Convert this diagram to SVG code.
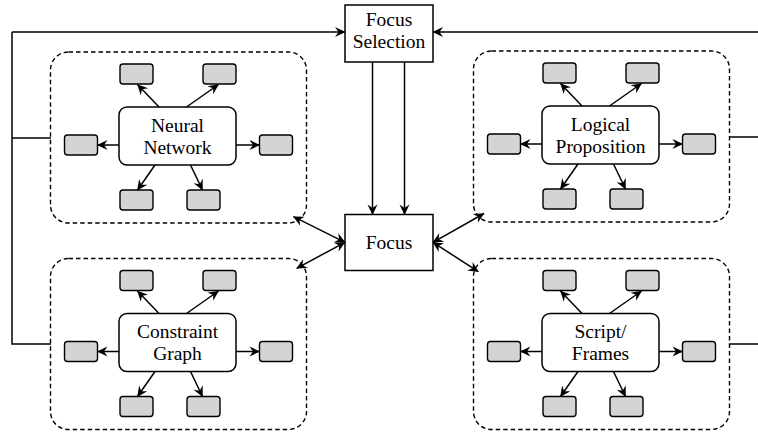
<svg xmlns="http://www.w3.org/2000/svg" width="758" height="432" viewBox="0 0 758 432">
  <defs>
    <style>
      .box { fill: #ffffff; stroke: #000000; stroke-width: 1.5; }
      .core { fill: #ffffff; stroke: #000000; stroke-width: 1.5; }
      .leaf { fill: #d4d4d4; stroke: #000000; stroke-width: 1.4; }
      .group { fill: none; stroke: #000000; stroke-width: 1.4; stroke-dasharray: 4.5 3; }
      .wire { fill: none; stroke: #000000; stroke-width: 1.5; }
      .arrow { fill: none; stroke: #000000; stroke-width: 1.5; marker-end: url(#head); }
      .both { fill: none; stroke: #000000; stroke-width: 1.5; marker-start: url(#head); marker-end: url(#head); }
      text { font-family: "Liberation Serif", "DejaVu Serif", serif; font-size: 19.5px; fill: #000000; text-anchor: middle; }
    </style>
    <marker id="head" viewBox="-11 -6 12 12" refX="0" refY="0" markerWidth="12" markerHeight="12" markerUnits="userSpaceOnUse" orient="auto-start-reverse">
      <path d="M0.5,0 L-10,-5 L-6.5,0 L-10,5 Z" fill="#000000"/>
    </marker>
  </defs>

  <!-- central controller -->
  <g id="focus-selection">
    <rect class="box" x="345" y="5" width="88" height="57"/>
    <text x="389" y="25.5">Focus</text>
    <text x="389" y="48">Selection</text>
  </g>
  <g id="focus">
    <rect class="box" x="345" y="214.5" width="88" height="56"/>
    <text x="389" y="249">Focus</text>
  </g>

  <!-- representation clusters -->
  <g id="neural-network" transform="translate(50.5,52)">
    <rect class="group" x="0" y="0" width="256" height="171" rx="18"/>
    <g id="nn-core"><rect class="core" x="68.5" y="55" width="117" height="58" rx="8"/><text x="127" y="79.5">Neural</text><text x="127" y="101.5">Network</text></g>
    <g id="nn-leaf-1"><rect class="leaf" x="69.5" y="12" width="33" height="20" rx="3"/></g>
    <g id="nn-leaf-2"><rect class="leaf" x="152.5" y="12" width="33" height="20" rx="3"/></g>
    <g id="nn-leaf-3"><rect class="leaf" x="14" y="83" width="33" height="20" rx="3"/></g>
    <g id="nn-leaf-4"><rect class="leaf" x="209" y="83" width="33" height="20" rx="3"/></g>
    <g id="nn-leaf-5"><rect class="leaf" x="69.5" y="138" width="33" height="20" rx="3"/></g>
    <g id="nn-leaf-6"><rect class="leaf" x="136.5" y="138" width="33" height="20" rx="3"/></g>
  </g>

  <g id="logical-proposition" transform="translate(473.5,51)">
    <rect class="group" x="0" y="0" width="256" height="171" rx="18"/>
    <g id="lp-core"><rect class="core" x="68.5" y="55" width="117" height="58" rx="8"/><text x="127" y="79.5">Logical</text><text x="127" y="101.5">Proposition</text></g>
    <g id="lp-leaf-1"><rect class="leaf" x="69.5" y="12" width="33" height="20" rx="3"/></g>
    <g id="lp-leaf-2"><rect class="leaf" x="152.5" y="12" width="33" height="20" rx="3"/></g>
    <g id="lp-leaf-3"><rect class="leaf" x="14" y="83" width="33" height="20" rx="3"/></g>
    <g id="lp-leaf-4"><rect class="leaf" x="209" y="83" width="33" height="20" rx="3"/></g>
    <g id="lp-leaf-5"><rect class="leaf" x="69.5" y="138" width="33" height="20" rx="3"/></g>
    <g id="lp-leaf-6"><rect class="leaf" x="136.5" y="138" width="33" height="20" rx="3"/></g>
  </g>

  <g id="constraint-graph" transform="translate(50.5,258.5)">
    <rect class="group" x="0" y="0" width="256" height="171" rx="18"/>
    <g id="cg-core"><rect class="core" x="68.5" y="55" width="117" height="58" rx="8"/><text x="127" y="79.5">Constraint</text><text x="127" y="101.5">Graph</text></g>
    <g id="cg-leaf-1"><rect class="leaf" x="69.5" y="12" width="33" height="20" rx="3"/></g>
    <g id="cg-leaf-2"><rect class="leaf" x="152.5" y="12" width="33" height="20" rx="3"/></g>
    <g id="cg-leaf-3"><rect class="leaf" x="14" y="83" width="33" height="20" rx="3"/></g>
    <g id="cg-leaf-4"><rect class="leaf" x="209" y="83" width="33" height="20" rx="3"/></g>
    <g id="cg-leaf-5"><rect class="leaf" x="69.5" y="138" width="33" height="20" rx="3"/></g>
    <g id="cg-leaf-6"><rect class="leaf" x="136.5" y="138" width="33" height="20" rx="3"/></g>
  </g>

  <g id="script-frames" transform="translate(473.5,258.5)">
    <rect class="group" x="0" y="0" width="256" height="171" rx="18"/>
    <g id="sf-core"><rect class="core" x="68.5" y="55" width="117" height="58" rx="8"/><text x="127" y="79.5">Script/</text><text x="127" y="101.5">Frames</text></g>
    <g id="sf-leaf-1"><rect class="leaf" x="69.5" y="12" width="33" height="20" rx="3"/></g>
    <g id="sf-leaf-2"><rect class="leaf" x="152.5" y="12" width="33" height="20" rx="3"/></g>
    <g id="sf-leaf-3"><rect class="leaf" x="14" y="83" width="33" height="20" rx="3"/></g>
    <g id="sf-leaf-4"><rect class="leaf" x="209" y="83" width="33" height="20" rx="3"/></g>
    <g id="sf-leaf-5"><rect class="leaf" x="69.5" y="138" width="33" height="20" rx="3"/></g>
    <g id="sf-leaf-6"><rect class="leaf" x="136.5" y="138" width="33" height="20" rx="3"/></g>
  </g>

  <g id="connectors">
    <!-- feedback from left clusters into selection -->
    <path class="wire" d="M51,138 H12 M51,344 H12 V32"/>
    <path class="arrow" d="M12,32 H345"/>
    <!-- feedback from right clusters -->
    <path class="wire" d="M729.5,137 H758 M729.5,344 H758"/>
    <path class="arrow" d="M758,32 H433"/>
    <!-- selection drives focus -->
    <path class="arrow" d="M372.5,62 V214.5"/>
    <path class="arrow" d="M404.5,62 V214.5"/>
    <!-- focus exchanges with each cluster -->
    <path class="both" d="M293.5,216.7 L345,242.3"/>
    <path class="both" d="M296.7,268.3 L345,242.3"/>
    <path class="both" d="M484,213.5 L433,242.3"/>
    <path class="both" d="M478.3,271.7 L433,242.3"/>

    <!-- core-to-leaf links, same layout in each cluster -->
    <g transform="translate(50.5,52)">
      <path class="arrow" d="M108.5,55 L87,32.5"/>
      <path class="arrow" d="M136,55 L168,32.5"/>
      <path class="arrow" d="M68.5,93 H47"/>
      <path class="arrow" d="M185.5,93 H209"/>
      <path class="arrow" d="M104.5,113 L87,138"/>
      <path class="arrow" d="M140,113 L152,138"/>
    </g>
    <g transform="translate(473.5,51)">
      <path class="arrow" d="M108.5,55 L87,32.5"/>
      <path class="arrow" d="M136,55 L168,32.5"/>
      <path class="arrow" d="M68.5,93 H47"/>
      <path class="arrow" d="M185.5,93 H209"/>
      <path class="arrow" d="M104.5,113 L87,138"/>
      <path class="arrow" d="M140,113 L152,138"/>
    </g>
    <g transform="translate(50.5,258.5)">
      <path class="arrow" d="M108.5,55 L87,32.5"/>
      <path class="arrow" d="M136,55 L168,32.5"/>
      <path class="arrow" d="M68.5,93 H47"/>
      <path class="arrow" d="M185.5,93 H209"/>
      <path class="arrow" d="M104.5,113 L87,138"/>
      <path class="arrow" d="M140,113 L152,138"/>
    </g>
    <g transform="translate(473.5,258.5)">
      <path class="arrow" d="M108.5,55 L87,32.5"/>
      <path class="arrow" d="M136,55 L168,32.5"/>
      <path class="arrow" d="M68.5,93 H47"/>
      <path class="arrow" d="M185.5,93 H209"/>
      <path class="arrow" d="M104.5,113 L87,138"/>
      <path class="arrow" d="M140,113 L152,138"/>
    </g>
  </g>
</svg>
